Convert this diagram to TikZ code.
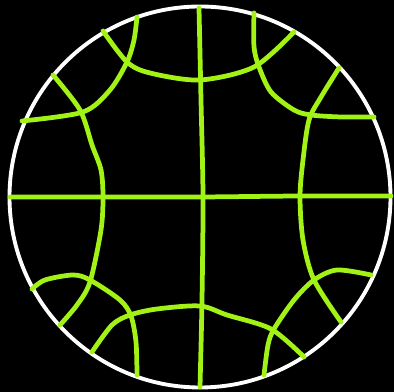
\documentclass[tikz,border=0pt]{standalone}
\usepackage{tikz}
\definecolor{Lime}{HTML}{A2F216}

\begin{document}
\begin{tikzpicture}[x=0.01cm,y=-0.01cm,
    rim/.style={draw=white,line width=1.1pt},
    geo/.style={draw=Lime,line width=1.35pt,line cap=round,line join=round}]
  \fill[black] (0,0) rectangle (394,392);
  \useasboundingbox (0,0) rectangle (394,392);
  \draw[rim] (200,197) circle (190.5);
  % diameters
  \draw[geo] plot[smooth] coordinates {(10,197) (100,197) (200,197) (300,196) (391,196)};
  \draw[geo] plot[smooth] coordinates {(199,8) (201,100) (203,197) (202,300) (200,387)};
  % top
  \draw[geo] plot[smooth] coordinates {(103,31) (127,62) (150,73) (200,80) (254,67) (294,32)};
  \draw[geo] plot[smooth] coordinates {(137,17) (134,40) (127,62) (110,90) (83,112) (22,121)};
  \draw[geo] plot[smooth] coordinates {(254,13) (254,47) (259,67) (271,92) (294,110) (311,115) (341,117) (374,117)};
  % sides
  \draw[geo] plot[smooth] coordinates {(53,75) (80,110) (92,145) (101,170) (103,197) (101,230) (90,282) (77,305) (60,325)};
  \draw[geo] plot[smooth] coordinates {(339,68) (321,97) (309,120) (303,160) (300,197) (303,240) (314,280) (341,322)};
  % bottom
  \draw[geo] plot[smooth] coordinates {(32,289) (45,280) (73,275) (90,280) (120,300) (131,316) (136,342) (137,375)};
  \draw[geo] plot[smooth] coordinates {(92,352) (112,325) (130,315) (157,309) (200,306) (227,315) (271,329) (304,357)};
  \draw[geo] plot[smooth] coordinates {(264,375) (268,345) (274,329) (294,300) (314,280) (337,270) (371,275)};
\end{tikzpicture}
\end{document}
